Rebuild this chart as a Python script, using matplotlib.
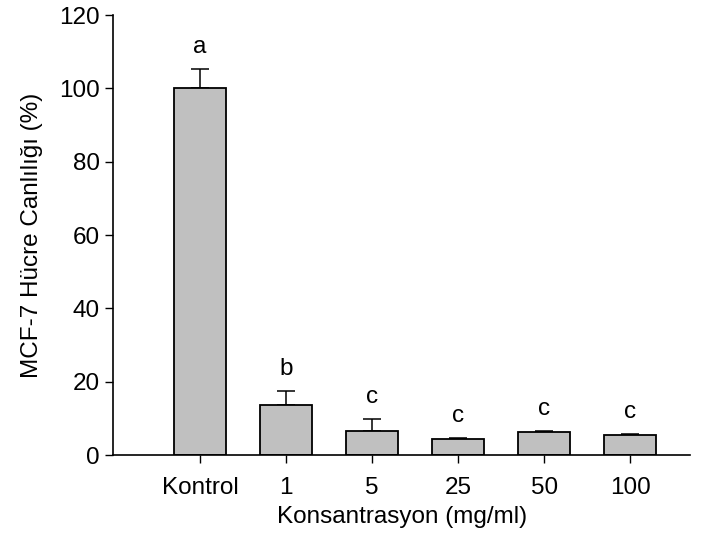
import matplotlib.pyplot as plt
import numpy as np

plt.rcParams['font.family'] = ['Liberation Sans', 'DejaVu Sans']

groups = ['Kontrol', '1', '5', '25', '50', '100']
viability = [100.0, 13.6, 6.6, 4.3, 6.4, 5.5]
err_up = [5.3, 3.9, 3.3, 0.3, 0.3, 0.4]
letters = ['a', 'b', 'c', 'c', 'c', 'c']

fig = plt.figure(figsize=(7.08, 5.38), dpi=100)
ax = fig.add_axes([0.160, 0.154, 0.815, 0.818])

x = np.arange(len(groups))
ax.bar(x, viability, width=0.6, color='#c0c0c0', edgecolor='black',
       linewidth=1.3, zorder=2)
ax.errorbar(x, viability, yerr=[np.zeros(len(x)), err_up], fmt='none',
            ecolor='black', elinewidth=1.1, capsize=6.5, capthick=1.1, zorder=1)

for xi, v, e, s in zip(x, viability, err_up, letters):
    ax.text(xi, v + e + 6, s, ha='center', va='center', fontsize=17.5)

ax.set_xlim(-1.01, 5.70)
ax.set_ylim(0, 120)
ax.set_yticks(np.arange(0, 121, 20))
ax.set_xticks(x)
ax.set_xticklabels(groups)
ax.tick_params(labelsize=17.5, direction='out', length=6, width=1)
ax.tick_params(axis='x', pad=10)
ax.set_xlabel('Konsantrasyon (mg/ml)', fontsize=17.5, labelpad=5)
ax.set_ylabel('MCF-7 Hücre Canlılığı (%)', fontsize=17.5, labelpad=12)

for side in ['top', 'right']:
    ax.spines[side].set_visible(False)
for side in ['left', 'bottom']:
    ax.spines[side].set_linewidth(1.2)

fig.savefig('out.png', dpi=100)
